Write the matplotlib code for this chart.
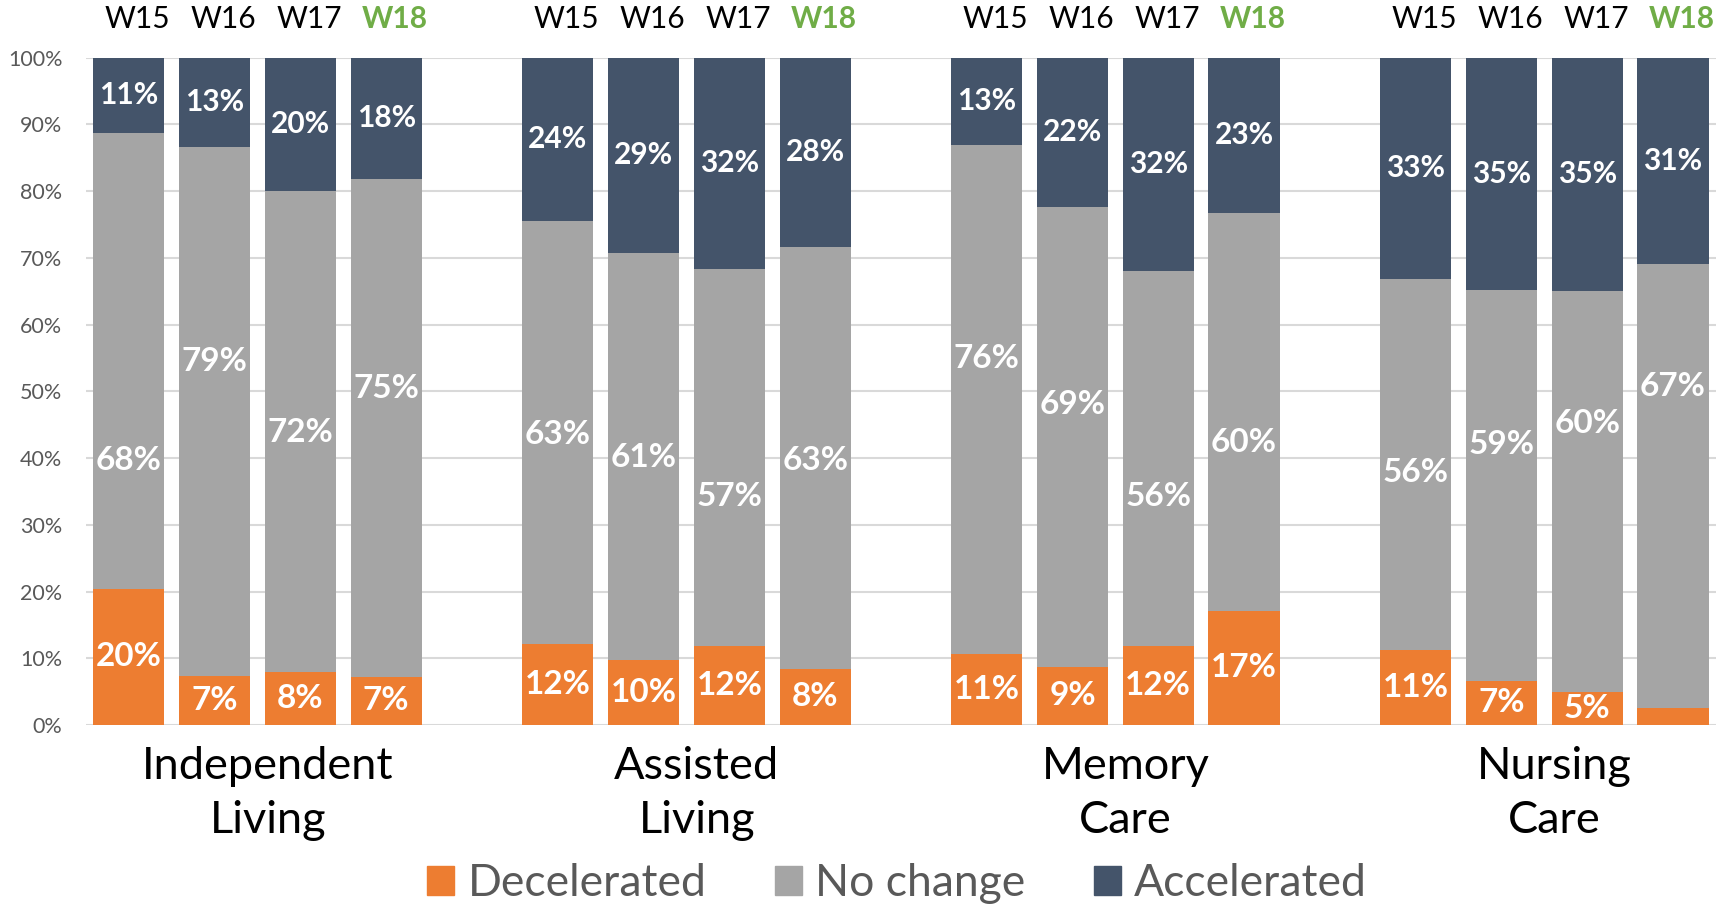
import numpy as np
from matplotlib import pyplot as plt
from matplotlib.patches import Patch

plt.rcParams['font.family'] = ['Lato', 'DejaVu Sans']

groups = ['Independent\nLiving', 'Assisted\nLiving', 'Memory\nCare', 'Nursing\nCare']
weeks = ['W15', 'W16', 'W17', 'W18']
series = ['Decelerated', 'No change', 'Accelerated']

# one value per bar: group by group, W15..W18
decelerated = [20.4, 7.4, 7.9, 7.2, 12.2, 9.7, 11.8, 8.4, 10.6, 8.7, 11.8, 17.1, 11.2, 6.6, 4.9, 2.5]
no_change = [68.3, 79.2, 72.1, 74.6, 63.4, 61.1, 56.6, 63.2, 76.3, 68.9, 56.2, 59.6, 55.6, 58.6, 60.1, 66.6]
accelerated = [11.3, 13.4, 20.0, 18.2, 24.4, 29.2, 31.6, 28.4, 13.1, 22.4, 32.0, 23.3, 33.2, 34.8, 35.0, 30.9]

# the grey labels were moved by hand in the original
no_change_label_y = [39.7, 54.5, 43.8, 50.4, 43.5, 40.1, 34.3, 39.7, 55.0, 48.1, 34.2, 42.4, 37.9, 42.0, 45.2, 50.7]

colors = ['#ED7D31', '#A5A5A5', '#44546A']
green = '#70AD47'

fig = plt.figure(figsize=(17.19, 9.09), dpi=100)
ax = fig.add_axes([0.050, 0.2024, 0.9482, 0.7341])

x = np.array([g * 5 + w for g in range(len(groups)) for w in range(len(weeks))])
dec = np.array(decelerated)
noc = np.array(no_change)
acc = np.array(accelerated)

ax.bar(x, dec, width=0.83, color=colors[0], zorder=3)
ax.bar(x, noc, width=0.83, bottom=dec, color=colors[1], zorder=3)
ax.bar(x, acc, width=0.83, bottom=dec + noc, color=colors[2], zorder=3)

lab = dict(ha='center', va='center', color='white', fontweight='bold', zorder=4)
for i in range(len(x)):
    if dec[i] >= 3:
        ax.text(x[i], dec[i] / 2, f'{round(dec[i])}%', fontsize=24, **lab)
    ax.text(x[i], no_change_label_y[i], f'{round(noc[i])}%', fontsize=24, **lab)
    ax.text(x[i], dec[i] + noc[i] + acc[i] / 2, f'{round(acc[i])}%', fontsize=21.5, **lab)

# week labels above each bar
for g in range(len(groups)):
    for w, wk in enumerate(weeks):
        last = w == len(weeks) - 1
        ax.text(g * 5 + w + 0.1, 105.8, wk, ha='center', va='center', fontsize=21.5,
                color=green if last else 'black', fontweight='bold' if last else 'normal',
                clip_on=False)
    ax.text(g * 5 + 1.5 + 0.12, -10.3, groups[g], ha='center', va='center',
            fontsize=32.5, linespacing=1.4, clip_on=False)

ax.set_xlim(-0.5, 18.5)
ax.set_ylim(0, 100)
ax.set_yticks(np.arange(0, 101, 10))
ax.set_yticklabels([f'{v}%' for v in range(0, 101, 10)])
ax.set_xticks([])
ax.tick_params(axis='y', length=0, pad=17, labelsize=15.5, labelcolor='#595959')
ax.grid(axis='y', color='#D9D9D9', linewidth=1.5, zorder=0)
for s in ax.spines.values():
    s.set_visible(False)

handles = [Patch(color=c, label=s) for c, s in zip(colors, series)]
fig.legend(handles=handles, loc='center', bbox_to_anchor=(0.522, 0.028), ncol=3,
           frameon=False, fontsize=32, handlelength=0.6, handleheight=0.65,
           handletextpad=0.3, columnspacing=1.55, labelcolor='#595959')

fig.savefig('out.png', dpi=100)
